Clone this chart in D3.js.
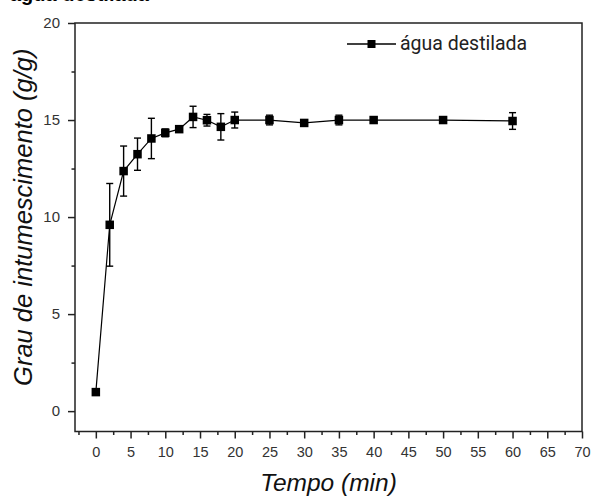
<!DOCTYPE html>
<html><head><meta charset="utf-8">
<script src="https://cdn.jsdelivr.net/npm/d3@7"></script>
<style>body{margin:0;background:#fff}svg{display:block}</style>
</head><body>
<script>
const times = [0,2,4,6,8,10,12,14,16,18,20,25,30,35,40,50,60];
const swelling = [0.98,9.6,12.37,13.24,14.05,14.34,14.53,15.16,14.99,14.65,15.0,15.0,14.85,15.0,15.0,15.0,14.95];
const errors = [0.1,2.13,1.29,0.83,1.04,0.2,0.15,0.55,0.3,0.68,0.41,0.25,0.15,0.25,0.15,0.15,0.43];
const xTicks = d3.range(0,71,5);
const yTicks = [0,5,10,15,20];
const seriesName = "água destilada";
const title = "água destilada";
const xTitle = "Tempo (min)";
const yTitle = "Grau de intumescimento (g/g)";

const W=592,H=498;
const svg=d3.select("body").append("svg").attr("width",W).attr("height",H);
const L=75,R=582,T=23,B=431.5;
const x=d3.scaleLinear().domain([-3,70]).range([L,R]);
const y=d3.scaleLinear().domain([-1.05,20]).range([B,T]);

// title (cut off at the top edge, as in the reference)
svg.append("text").attr("x",10).attr("y",1).attr("font-family","Arial, 'Liberation Sans'")
  .attr("font-weight","bold").attr("font-size",20).attr("fill","#000").text(title);

svg.append("rect").attr("x",L).attr("y",T).attr("width",R-L).attr("height",B-T)
  .attr("fill","none").attr("stroke","#222").attr("stroke-width",1.5);

const tickColor="#222";
svg.append("g").attr("class","xa").attr("transform",`translate(0,${B})`)
  .call(d3.axisBottom(x).tickValues(xTicks).tickSize(7).tickPadding(8.5).tickFormat(d3.format("d")));
svg.append("g").attr("transform",`translate(0,${B})`)
  .call(d3.axisBottom(x).tickValues(d3.range(-2.5,70,5)).tickSize(3.5).tickFormat(""));
svg.append("g").attr("class","ya").attr("transform",`translate(${L},0)`)
  .call(d3.axisLeft(y).tickValues(yTicks).tickSize(7).tickPadding(8).tickFormat(d3.format("d")));
svg.append("g").attr("transform",`translate(${L},0)`)
  .call(d3.axisLeft(y).tickValues([2.5,7.5,12.5,17.5]).tickSize(3.5).tickFormat(""));
svg.selectAll(".domain").remove();
svg.selectAll(".tick line").attr("stroke",tickColor).attr("stroke-width",1.5);
svg.selectAll(".tick text").attr("font-family","Arial, 'Liberation Sans'").attr("fill","#333");
svg.selectAll(".xa .tick text").attr("font-size",14.5);
svg.selectAll(".ya .tick text").attr("font-size",15);

svg.append("text").attr("x",(L+R)/2).attr("y",491).attr("text-anchor","middle")
  .attr("font-family","Arial, 'Liberation Sans'").attr("font-style","italic").attr("font-size",24.5).attr("fill","#111").text(xTitle);
svg.append("text").attr("transform",`translate(32,${(T+B)/2-10}) rotate(-90)`).attr("text-anchor","middle")
  .attr("font-family","Arial, 'Liberation Sans'").attr("font-style","italic").attr("font-size",25.5).attr("fill","#111").text(yTitle);

const data=times.map((t,i)=>({t,v:swelling[i],e:errors[i]}));
svg.append("path").datum(data).attr("fill","none").attr("stroke","#000").attr("stroke-width",1.2)
  .attr("d",d3.line().x(d=>x(d.t)).y(d=>y(d.v)));
const eb=svg.append("g").attr("stroke","#000").attr("stroke-width",1.4);
data.forEach(d=>{
  const cx=x(d.t);
  eb.append("line").attr("x1",cx).attr("x2",cx).attr("y1",y(d.v-d.e)).attr("y2",y(d.v+d.e));
  [d.v-d.e,d.v+d.e].forEach(v=>eb.append("line").attr("x1",cx-3.5).attr("x2",cx+3.5).attr("y1",y(v)).attr("y2",y(v)));
});
const ms=8.5;
svg.append("g").selectAll("rect").data(data).join("rect")
  .attr("x",d=>x(d.t)-ms/2).attr("y",d=>y(d.v)-ms/2).attr("width",ms).attr("height",ms).attr("fill","#000");

const ly=44;
svg.append("line").attr("x1",347).attr("x2",396).attr("y1",ly).attr("y2",ly).attr("stroke","#000").attr("stroke-width",1.5);
svg.append("rect").attr("x",371.5-4).attr("y",ly-4).attr("width",8).attr("height",8).attr("fill","#000");
svg.append("text").attr("x",400).attr("y",ly+6).attr("font-family","Roboto, Arial").attr("font-size",19.5).attr("fill","#222").text(seriesName);
</script>
</body></html>
